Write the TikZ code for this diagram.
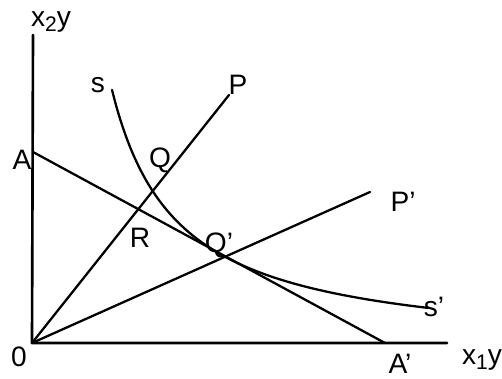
\documentclass[tikz,border=0pt]{standalone}
\usepackage{fontspec}
\setmainfont{Liberation Sans}
\newcommand{\subsc}[1]{\raisebox{-0.35ex}{\fontsize{12}{13}\selectfont #1}}
\begin{document}
\begin{tikzpicture}[x=0.02cm,y=-0.02cm,
  ln/.style={line width=1.3pt, line cap=round, line join=round},
  lbl/.style={font=\fontsize{16}{18}\selectfont, inner sep=0pt}]
\useasboundingbox (0,0) rectangle (502,378);
% key points
\coordinate (O) at (32,343);
\coordinate (Ytop) at (33,35);
\coordinate (Xend) at (447,343);
\coordinate (A) at (33,152);
\coordinate (Ap) at (385,343);
\coordinate (Pend) at (229,95);
\coordinate (Ppend) at (370,192);
% axes
\draw[ln, line width=1.5pt] (Ytop) -- (O) -- (Xend);
% budget line A A'
\draw[ln] (A) -- (Ap);
% rays
\draw[ln] (O) -- (Pend);
\draw[ln] (O) -- (Ppend);
% isoquant s s'
\draw[ln] plot[domain=80:396, samples=120, smooth]
  ({32+\x}, {352.75 - 1709/(0.1*\x-1.5)});
% labels
\node[lbl] (lx2) at (51,22) {x\subsc{2}y};
\node[lbl] (lx1) at (482,360) {x\subsc{1}y};
\node[lbl] (l0) at (19,357) {0};
\node[lbl] (lA) at (22,160) {A};
\node[lbl] (lAp) at (400,364) {A'};
\node[lbl] (ls) at (98,85) {s};
\node[lbl] (lsp) at (434,307) {s'};
\node[lbl] (lP) at (238,85) {P};
\node[lbl] (lPp) at (403,202) {P'};
\node[lbl] (lQ) at (160,160) {Q};
\node[lbl] (lR) at (140,238) {R};
\node[lbl] (lQp) at (219,245) {Q'};
\end{tikzpicture}
\end{document}
